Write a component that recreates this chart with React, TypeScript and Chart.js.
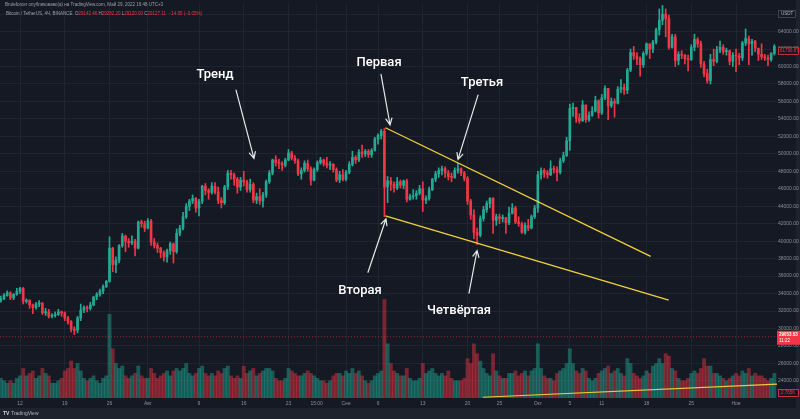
import React, { useEffect, useRef } from 'react';
import { Chart, registerables } from 'chart.js';
Chart.register(...registerables);

// x unit: days relative to 12 July (00:00); 12h candles
const FIRST_DAY = -3;
const STEP = 0.5;
const FIRST_OPEN = 33200;

const closes = [
  33400,33800, 34100,33500, 33900,34250, 34600,33100,
  33200,32700, 32400,32800, 32900,31800, 31900,31400, 31500,31600, 31900,31800, 31200,30800,
  29900,29800, 31200,32100, 32400,32300, 32700,33600, 33900,34300, 34800,35400, 39200,37300,
  37800,39500, 40600,40000, 39800,40000, 39200,42200, 42000,41500, 42300,39900, 39500,39200,
  38700,38200, 38900,39700, 38800,40900, 41500,42800, 44000,44600, 44900,43800, 44600,46300,
  45800,45600, 46300,45600, 44700,44400, 46200,47800, 47600,47100, 46200,47000, 46800,45900,
  46500,44700, 45100,44600, 45300,46800, 47800,49300, 49000,48900, 48700,49300, 50100,49500,
  49200,47700, 48100,48900, 48300,47000, 48200,49000, 49300,48900, 48700,48800, 48200,47000,
  47600,47100, 47900,48800, 49600,49300, 50200,50000, 50300,49900, 50400,51700, 52100,52600,
  46200,46900, 46500,46100, 46800,46400, 46900,44800, 45100,45200, 45500,46000, 44700,44900,
  45900,47100, 47700,48100, 48300,47800, 47400,47300, 48100,48300, 47800,47200, 44600,43000,
  41000,40700, 42600,43600, 44300,44900, 42400,42800, 42600,42700, 42100,43200, 43800,42200,
  42000,41000, 41800,41500, 42800,43800, 47600,48100, 47800,47600, 48300,48200, 47900,49200,
  49800,51500, 55200,55300, 54100,53800, 55600,53900, 54400,54900, 56100,54700, 56400,57500,
  55500,56000, 55800,57400, 57600,57300, 59600,61600, 61200,60900, 60200,61500, 62600,62000,
  62800,64200, 65300,66000, 65500,62200, 63400,60700, 61400,61300, 60900,60800, 62200,63100,
  62600,60300, 59200,58400, 60800,60600, 61900,62200, 61700,61800, 60600,61300, 61200,61000,
  62700,63200, 62600,62900, 62100,61400, 61100,61000, 60800,61500, 62300,
];

const highs = [
  33700,34000, 34300,34200, 34000,34600, 34700,34700,
  33400,33300, 32800,33000, 33200,33000, 32300,32200, 31700,31900, 32200,32000, 31900,31400,
  30900,30200, 31400,32800, 32600,32600, 33000,33700, 34100,34500, 35000,35500, 40500,39300,
  38200,39600, 40900,40700, 40300,40600, 40200,42300, 42400,42300, 42600,42500, 40300,39800,
  39300,38900, 39100,39900, 39800,41400, 41800,43300, 44300,44800, 45300,45000, 44800,46400,
  46600,46000, 46700,46700, 46200,45000, 46400,48100, 48100,47800, 47300,47300, 48000,47000,
  47100,46700, 45500,46000, 45600,47000, 48100,49400, 49800,49400, 49100,49500, 50500,50300,
  49800,49400, 48400,49200, 49300,48500, 48400,49200, 49600,49400, 49600,49100, 48900,48400,
  48000,48200, 48100,49100, 50300,49800, 50500,51000, 50500,50500, 50600,51900, 52300,52800,
  52900,47400, 47300,46800, 47300,47000, 47000,47100, 45400,45900, 45800,46400, 46800,45200,
  46200,47200, 48000,48400, 48600,48500, 48100,47800, 48400,48900, 48400,48000, 47400,44800,
  43600,41500, 42900,44000, 44600,45000, 45000,43100, 43100,43000, 42700,43900, 44300,44000,
  42800,42200, 42100,42500, 43000,44100, 48000,48400, 48300,48100, 49200,48600, 48500,49500,
  50200,51900, 55700,55800, 55300,54600, 56100,55600, 54800,55400, 56600,56200, 56800,57800,
  57500,56400, 56300,57700, 58500,58000, 59800,62000, 62300,61600, 61100,61700, 62700,62600,
  63000,64400, 66600,67000, 66600,65900, 63700,63700, 61700,61800, 61400,61300, 62500,63700,
  63300,62900, 60600,59700, 61400,62000, 62300,62900, 62500,62100, 61900,61600, 62000,61500,
  62900,64300, 63500,63100, 63000,62100, 62600,61400, 61300,61600, 62500,
];

const lows = [
  33000,33300, 33700,33300, 33300,33800, 34000,32800,
  32900,32300, 31700,32200, 32500,31600, 31500,31200, 31200,31300, 31500,31400, 30900,30500,
  29600,29300, 29500,30900, 31800,31900, 32100,32600, 33300,33700, 34000,34700, 35300,36500,
  36400,37500, 39300,38800, 39300,39600, 38300,39100, 41600,41100, 41400,39500, 39200,38700,
  38100,37700, 37600,38500, 37500,38600, 40600,41300, 42600,43500, 44300,43300, 42900,44300,
  45300,44800, 45400,45400, 44300,43800, 44200,45900, 47100,46400, 45500,45800, 46300,45600,
  45600,44400, 44300,44200, 43900,45000, 46600,47600, 48600,48300, 48100,48500, 49200,49300,
  48900,47500, 47100,47900, 48000,46400, 46900,48000, 48800,48600, 48400,48200, 47900,46800,
  46700,46900, 46900,47700, 48600,48900, 49100,49600, 49700,49600, 49600,50300, 51100,51700,
  42800,44400, 45800,45600, 45900,46100, 46000,44500, 44700,44800, 44800,45300, 43400,44300,
  44700,45800, 46800,47300, 47600,47300, 47000,46800, 47200,47800, 47500,46900, 44200,42500,
  40300,39600, 40500,42300, 43300,43800, 40900,41800, 42000,42200, 40900,41900, 43100,42000,
  41700,40900, 40800,41200, 41400,42600, 43300,47100, 47300,47200, 47500,47800, 46900,47700,
  49000,49700, 50400,54300, 53600,53500, 53700,53600, 53700,54300, 54800,54100, 54500,56200,
  53900,55300, 54200,55700, 57000,56800, 56900,59400, 60800,60200, 58900,59900, 61300,60900,
  61600,62600, 63600,64800, 63400,62000, 62100,60000, 60200,60900, 60300,59500, 60700,61800,
  62200,59900, 58800,58100, 58000,60100, 60400,61600, 61400,61300, 60200,60000, 59400,60200,
  60700,62400, 60200,61300, 61700,60700, 60800,60700, 60100,60600, 61300,
];

const volumes = [
  8,7, 6,7, 6,8, 9,12,
  9,10, 11,8, 9,12, 10,9, 6,6, 7,8, 11,12,
  15,12, 14,11, 8,7, 8,9, 7,6, 8,9, 34,20,
  14,12, 13,9, 8,9, 10,13, 9,8, 8,12, 10,8,
  9,10, 11,9, 11,12, 11,12, 14,10, 9,10, 12,13,
  10,9, 10,9, 11,10, 12,13, 9,8, 9,8, 13,10,
  11,12, 9,10, 11,12, 12,11, 8,7, 7,8, 12,11,
  10,9, 9,10, 11,10, 9,8, 7,7, 6,7, 9,10,
  10,9, 11,10, 12,10, 11,9, 7,6, 7,9, 10,11,
  40,22, 14,11, 10,9, 9,12, 8,7, 7,8, 14,10,
  11,12, 10,9, 10,9, 11,8, 7,7, 7,8, 16,14,
  22,18, 15,12, 10,9, 18,11, 9,8, 8,10, 10,11,
  9,10, 11,9, 11,12, 22,12, 9,8, 8,7, 10,11,
  12,14, 20,14, 11,10, 12,11, 8,7, 8,10, 11,12,
  13,10, 11,12, 10,9, 16,14, 10,9, 8,9, 11,10,
  13,14, 16,14, 18,17, 12,11, 8,7, 7,8, 10,11,
  10,12, 16,13, 13,10, 10,9, 8,7, 8,9, 10,9,
  11,10, 12,9, 10,9, 9,8, 7,8, 10,
];

const X_MIN = -3.13;
const X_MAX = 118.41;
const Y_MIN = 22040;
const Y_MAX = 67160;
const VOL_MAX = 160;

const timeTickDays = [0, 7, 14, 20, 28, 35, 42, 46.4, 51, 56, 63, 70, 75, 81, 86, 91, 98, 105, 112];
const timeTickLabels = ['12', '19', '26', 'Авг', '9', '16', '23', '15:00', 'Сен', '6', '13', '20', '25', 'Окт', '5', '11', '18', '25', 'Ноя'];
const priceTicks = [24000, 26000, 28000, 30000, 32000, 34000, 36000, 38000, 40000, 42000, 44000, 46000, 48000, 50000, 52000, 54000, 56000, 58000, 60000, 62000, 64000, 66000];

const upperLineDays = [57.16, 98.65];
const upperLinePrices = [52990, 38250];
const lowerLineDays = [57.16, 101.47];
const lowerLinePrices = [42900, 33260];
const volLineDays = [72.4, 118.41];
const volLineValues = [0.3, 5.6];

const currentPrice = 29053.63;
const markedPrice = 61796.87;
const volumeMarkValue = 2.0;

const noteTexts = ['Тренд', 'Первая', 'Третья', 'Вторая', 'Четвёртая'];
const noteDays = [30.5, 56.16, 72.27, 53.18, 68.67];
const notePrices = [59110, 60470, 58090, 34280, 32020];
const arrowFromDays = [33.79, 56.47, 71.64, 54.43, 70.23];
const arrowFromPrices = [57300, 59110, 56720, 36440, 34060];
const arrowToDays = [36.6, 57.88, 68.51, 57.25, 71.49];
const arrowToPrices = [49480, 53330, 49360, 42560, 38930];

const UP = '#22ab94';
const DOWN = '#f23645';
const BG = '#151924';
const GRID = 'rgba(42,46,57,0.55)';
const AXIS_TEXT = '#8a8e99';

export default function App() {
  const ref = useRef<HTMLCanvasElement>(null);
  useEffect(() => {
    document.body.style.margin = '0';
    const canvas = ref.current!;
    const n = Math.min(closes.length, highs.length, lows.length, volumes.length);
    const xs: number[] = [];
    for (let i = 0; i < n; i++) xs.push(FIRST_DAY + i * STEP);
    const opens = xs.map((_, i) => (i === 0 ? FIRST_OPEN : closes[i - 1]));
    const isUp = xs.map((_, i) => closes[i] >= opens[i]);

    const bgPlugin = {
      id: 'bg',
      beforeDraw(chart: any) {
        const ctx = chart.ctx;
        ctx.save();
        ctx.fillStyle = BG;
        ctx.fillRect(0, 0, chart.width, chart.height);
        ctx.fillStyle = '#1e222d';
        ctx.fillRect(0, 408, chart.width, chart.height - 408);
        ctx.fillRect(796, 0, 4, chart.height);
        ctx.restore();
      },
    };

    const overlayPlugin = {
      id: 'overlay',
      afterDraw(chart: any) {
        const ctx = chart.ctx;
        const sx = chart.scales.x;
        const sy = chart.scales.y;
        const sv = chart.scales.y1;
        const area = chart.chartArea;
        ctx.save();
        // arrows
        ctx.strokeStyle = '#e6e8ee';
        ctx.lineWidth = 1.2;
        ctx.lineCap = 'round';
        for (let i = 0; i < noteTexts.length; i++) {
          const x1 = sx.getPixelForValue(arrowFromDays[i]);
          const y1 = sy.getPixelForValue(arrowFromPrices[i]);
          const x2 = sx.getPixelForValue(arrowToDays[i]);
          const y2 = sy.getPixelForValue(arrowToPrices[i]);
          ctx.beginPath();
          ctx.moveTo(x1, y1);
          ctx.lineTo(x2, y2);
          const a = Math.atan2(y2 - y1, x2 - x1);
          const L = 7;
          ctx.moveTo(x2 - L * Math.cos(a - 0.45), y2 - L * Math.sin(a - 0.45));
          ctx.lineTo(x2, y2);
          ctx.lineTo(x2 - L * Math.cos(a + 0.45), y2 - L * Math.sin(a + 0.45));
          ctx.stroke();
        }
        // labels
        ctx.fillStyle = '#ffffff';
        ctx.font = '500 13px Roboto';
        ctx.textAlign = 'center';
        ctx.textBaseline = 'middle';
        for (let i = 0; i < noteTexts.length; i++) {
          ctx.fillText(noteTexts[i], sx.getPixelForValue(noteDays[i]), sy.getPixelForValue(notePrices[i]));
        }
        // header
        ctx.textAlign = 'left';
        ctx.font = '4.5px "Liberation Sans"';
        ctx.fillStyle = '#9ca0ab';
        ctx.fillText('Bruteforcer опубликовано(а) на TradingView.com, Май 29, 2022 16:48 UTC+3', 5, 5);
        let x = 6;
        const parts: [string, string][] = [
          ['Bitcoin / TetherUS, 4Ч, BINANCE  O', '#9ca0ab'], ['29142.46', DOWN],
          [' H', '#9ca0ab'], ['29282.20', DOWN], [' L', '#9ca0ab'], ['29120.00', DOWN],
          [' C', '#9ca0ab'], ['29127.11', DOWN], ['  −14.95 (−0.05%)', DOWN],
        ];
        for (const [t, c] of parts) {
          ctx.fillStyle = c;
          ctx.fillText(t, x, 14);
          x += ctx.measureText(t).width;
        }
        // right axis boxes
        const ax = area.right + 1;
        // USDT
        ctx.strokeStyle = '#4a4e5a';
        ctx.lineWidth = 0.8;
        ctx.strokeRect(ax + 0.5, 10.5, 17, 7);
        ctx.fillStyle = '#b2b5be';
        ctx.font = '4.5px "Liberation Sans"';
        ctx.fillText('USDT', ax + 3, 14);
        // marked price
        const my = sy.getPixelForValue(markedPrice);
        ctx.fillStyle = BG;
        ctx.fillRect(ax, my - 4, 21, 8);
        ctx.strokeStyle = DOWN;
        ctx.strokeRect(ax + 0.5, my - 3.5, 20, 7);
        ctx.fillStyle = DOWN;
        ctx.fillText(markedPrice.toFixed(2), ax + 2, my);
        // current price
        const cy = sy.getPixelForValue(currentPrice);
        ctx.fillStyle = DOWN;
        ctx.fillRect(ax - 1, cy - 6, 23, 14);
        ctx.fillStyle = '#ffffff';
        ctx.font = 'bold 4.5px "Liberation Sans"';
        ctx.fillText(currentPrice.toFixed(2), ax + 1, cy - 2);
        ctx.font = '4.5px "Liberation Sans"';
        ctx.fillText('11:22', ax + 1, cy + 4);
        // volume box
        const vy = sv.getPixelForValue(volumeMarkValue);
        ctx.fillStyle = BG;
        ctx.fillRect(ax, vy - 4, 21, 8);
        ctx.strokeStyle = DOWN;
        ctx.strokeRect(ax + 0.5, vy - 3.5, 20, 7);
        ctx.fillStyle = DOWN;
        ctx.fillText('2.765K', ax + 3, vy);
        // TradingView mark
        ctx.fillStyle = '#d1d4dc';
        ctx.font = 'bold 5px "Liberation Sans"';
        ctx.fillText('TV', 3, 414);
        ctx.font = '5px "Liberation Sans"';
        ctx.fillStyle = '#b2b5be';
        ctx.fillText('TradingView', 11, 414);
        ctx.restore();
      },
    };

    const chart = new Chart(canvas, {
      type: 'bar',
      data: {
        datasets: [
          {
            type: 'line',
            data: [{ x: upperLineDays[0], y: upperLinePrices[0] }, { x: upperLineDays[1], y: upperLinePrices[1] }],
            borderColor: '#f0d23a', borderWidth: 1.3, pointRadius: 0, order: 0,
          } as any,
          {
            type: 'line',
            data: [{ x: lowerLineDays[0], y: lowerLinePrices[0] }, { x: lowerLineDays[1], y: lowerLinePrices[1] }],
            borderColor: '#f0d23a', borderWidth: 1.3, pointRadius: 0, order: 0,
          } as any,
          {
            type: 'line', yAxisID: 'y1',
            data: [{ x: volLineDays[0], y: volLineValues[0] }, { x: volLineDays[1], y: volLineValues[1] }],
            borderColor: '#e8cc3a', borderWidth: 1.2, pointRadius: 0, order: 0,
          } as any,
          {
            type: 'bar',
            data: xs.map((x, i) => ({ x, y: [opens[i], closes[i]] })),
            backgroundColor: xs.map((_, i) => (isUp[i] ? UP : DOWN)),
            barThickness: 2, grouped: false, minBarLength: 1, order: 1,
          } as any,
          {
            type: 'bar',
            data: xs.map((x, i) => ({ x, y: [lows[i], highs[i]] })),
            backgroundColor: xs.map((_, i) => (isUp[i] ? UP : DOWN)),
            barThickness: 1, grouped: false, order: 2,
          } as any,
          {
            type: 'line',
            data: [{ x: X_MIN, y: currentPrice }, { x: X_MAX, y: currentPrice }],
            borderColor: 'rgba(242,54,69,0.6)', borderWidth: 1, borderDash: [1, 2], pointRadius: 0, order: 3,
          } as any,
          {
            type: 'bar', yAxisID: 'y1',
            data: xs.map((x, i) => ({ x, y: volumes[i] })),
            backgroundColor: xs.map((_, i) => (isUp[i] ? 'rgba(34,171,148,0.45)' : 'rgba(242,54,69,0.45)')),
            barThickness: 3.2, grouped: false, order: 5,
          } as any,
        ],
      },
      options: {
        responsive: false,
        animation: false,
        devicePixelRatio: 1,
        events: [],
        layout: { padding: 0 },
        plugins: { legend: { display: false }, tooltip: { enabled: false }, title: { display: false } },
        scales: {
          x: {
            type: 'linear', min: X_MIN, max: X_MAX, offset: false,
            grid: { color: GRID, offset: false, drawTicks: false, lineWidth: 1 },
            border: { display: false },
            ticks: {
              autoSkip: false, maxRotation: 0, padding: 3, color: AXIS_TEXT,
              font: { size: 5, family: '"Liberation Sans"' },
              callback: (_v: any, i: number) => timeTickLabels[i],
            },
            afterBuildTicks: (s: any) => { s.ticks = timeTickDays.map((v) => ({ value: v })); },
            afterFit: (s: any) => { s.height = 21; },
          },
          y: {
            type: 'linear', position: 'right', min: Y_MIN, max: Y_MAX,
            grid: { color: GRID, drawTicks: false, lineWidth: 1 },
            border: { display: false },
            ticks: {
              padding: 1, color: AXIS_TEXT,
              font: { size: 5, family: '"Liberation Sans"' },
              callback: (v: any) => (v >= 24000 && v <= 64000 ? Number(v).toFixed(2) : ''),
            },
            afterBuildTicks: (s: any) => { s.ticks = priceTicks.map((v) => ({ value: v })); },
            afterFit: (s: any) => { s.width = 23; },
          },
          y1: { type: 'linear', display: false, min: 0, max: VOL_MAX },
        },
      } as any,
      plugins: [bgPlugin, overlayPlugin],
    });
    return () => chart.destroy();
  }, []);
  return (
    <div style={{ width: 800, height: 419, position: 'relative', overflow: 'hidden' }}>
      <canvas ref={ref} width={800} height={419} style={{ display: 'block' }} />
    </div>
  );
}
